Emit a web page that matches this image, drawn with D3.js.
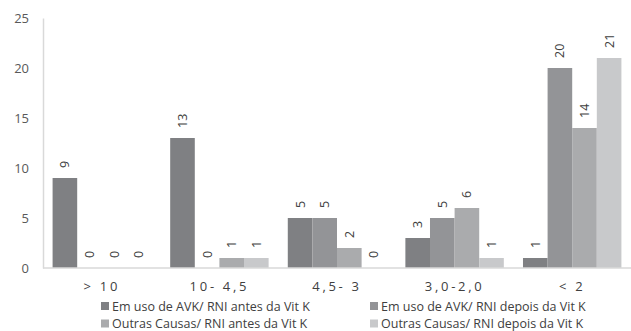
<!DOCTYPE html>
<html>
<head>
<meta charset="utf-8">
<script src="https://cdn.jsdelivr.net/npm/d3@7/dist/d3.min.js"></script>
<style>
  html, body { margin: 0; padding: 0; background: #fff; }
  svg { display: block; font-family: "Open Sans", sans-serif; }
</style>
</head>
<body>
<svg id="chart" width="631" height="331"></svg>
<script>
// INR ranges on the x axis
const categories = ["> 10", "10- 4,5", "4,5- 3", "3,0-2,0", "< 2"];
// series names (legend order)
const seriesNames = [
  "Em uso de AVK/ RNI antes da Vit K",
  "Em uso de AVK/ RNI depois da Vit K",
  "Outras Causas/ RNI antes da Vit K",
  "Outras Causas/ RNI depois da Vit K"
];
// counts per series, one value per category
const avkAntes    = [9, 13, 5, 3, 1];
const avkDepois   = [0, 0, 5, 5, 20];
const outrasAntes = [0, 1, 2, 6, 14];
const outrasDepois= [0, 1, 0, 1, 21];
const yTicks = [0, 5, 10, 15, 20, 25];

const seriesValues = [avkAntes, avkDepois, outrasAntes, outrasDepois];
const colors = ["#7f8083", "#939497", "#aaabad", "#c8c9cb"];

const svg = d3.select("#chart");
const plotLeft = 43, plotRight = 631, plotTop = 18, plotBottom = 268;

const x0 = d3.scaleBand().domain(categories).range([plotLeft, plotRight])
  .paddingInner(0.163).paddingOuter(0.0815);
const x1 = d3.scaleBand().domain(d3.range(seriesNames.length)).range([0, x0.bandwidth()]);
const y = d3.scaleLinear().domain([0, 25]).range([plotBottom, plotTop]);

// y axis
const yAxis = d3.axisLeft(y).tickValues(yTicks).tickSize(0).tickPadding(14);
const gy = svg.append("g").attr("transform", `translate(${plotLeft},0)`).call(yAxis);
gy.select(".domain").attr("stroke", "#d9d9d9").attr("stroke-width", 1.5);
gy.selectAll("text").attr("fill", "#595959").attr("font-size", 13)
  .attr("font-family", "'Open Sans', sans-serif");

// bars
const groups = svg.append("g").selectAll("g").data(categories).join("g")
  .attr("transform", c => `translate(${x0(c)},0)`);

groups.each(function(c, ci) {
  const g = d3.select(this);
  seriesValues.forEach((vals, si) => {
    const v = vals[ci];
    if (v > 0) {
      g.append("rect")
        .attr("x", x1(si))
        .attr("y", y(v))
        .attr("width", x1.bandwidth())
        .attr("height", y(0) - y(v))
        .attr("fill", colors[si]);
    }
    const cx = x1(si) + x1.bandwidth() / 2;
    const ty = y(v) - 10;
    g.append("text")
      .attr("transform", `translate(${cx},${ty}) rotate(-90)`)
      .attr("text-anchor", "start")
      .attr("dominant-baseline", "central")
      .attr("font-size", 12.5)
      .attr("fill", "#404040")
      .text(v);
  });
});

// x axis baseline
svg.append("line")
  .attr("x1", plotLeft).attr("x2", plotRight)
  .attr("y1", y(0)).attr("y2", y(0))
  .attr("stroke", "#d9d9d9").attr("stroke-width", 1.5);

// category labels
svg.append("g").selectAll("text").data(categories).join("text")
  .attr("x", c => x0(c) + x0.bandwidth() / 2)
  .attr("y", 291)
  .attr("text-anchor", "middle")
  .attr("font-size", 13)
  .attr("letter-spacing", 2.7)
  .attr("fill", "#404040")
  .text(c => c);

// legend (2 x 2)
const legendPos = [[100, 306], [369, 306], [100, 323.5], [369, 323.5]];
const legend = svg.append("g").selectAll("g").data(seriesNames).join("g")
  .attr("transform", (d, i) => `translate(${legendPos[i][0]},${legendPos[i][1]})`);
legend.append("rect")
  .attr("x", 1).attr("y", -4).attr("width", 8).attr("height", 8)
  .attr("fill", (d, i) => colors[i]);
legend.append("text")
  .attr("x", 12).attr("y", 0)
  .attr("dominant-baseline", "central")
  .attr("font-size", 12.5)
  .attr("fill", "#404040")
  .text(d => d);
</script>
</body>
</html>
